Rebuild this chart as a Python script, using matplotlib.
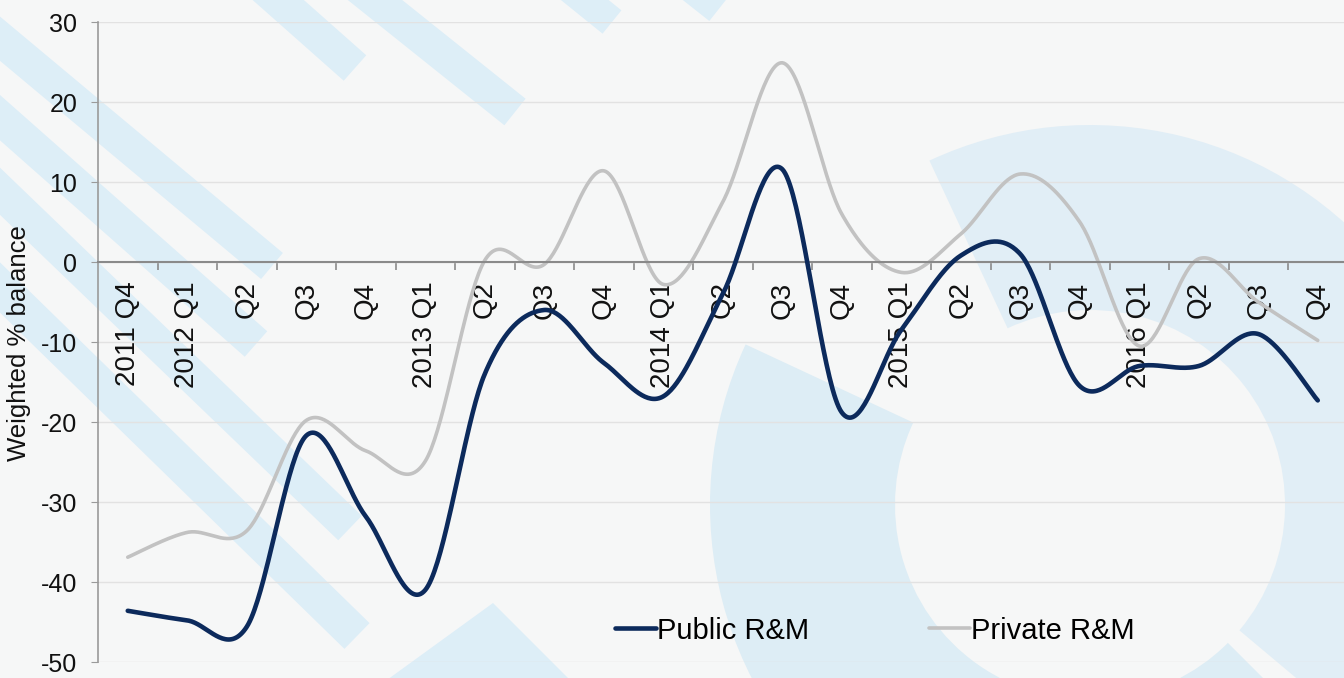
import numpy as np
import matplotlib
matplotlib.use("Agg")
import matplotlib.pyplot as plt
from matplotlib.patches import Polygon, Wedge
from matplotlib.transforms import Affine2D

plt.rcParams['font.family'] = ['Liberation Sans', 'DejaVu Sans']

# data
quarters = ['2011 Q4', '2012 Q1', 'Q2', 'Q3', 'Q4', '2013 Q1', 'Q2', 'Q3', 'Q4',
            '2014 Q1', 'Q2', 'Q3', 'Q4', '2015 Q1', 'Q2', 'Q3', 'Q4',
            '2016 Q1', 'Q2', 'Q3', 'Q4']
public_rm = [-43.6, -44.8, -45.6, -21.7, -31.8, -41.0, -14.0, -6.0, -12.6,
             -16.8, -4.0, 11.6, -18.8, -8.5, 0.8, 1.0, -15.5,
             -13.0, -13.0, -9.0, -17.3]
private_rm = [-36.9, -33.8, -33.6, -19.8, -23.6, -24.9, 0.2, -0.3, 11.4,
              -2.8, 7.5, 24.9, 6.0, -1.3, 3.5, 11.0, 5.0,
              -10.5, 0.4, -5.0, -9.8]
y_ticks = [-50, -40, -30, -20, -10, 0, 10, 20, 30]

W, H = 1344, 678


def smooth_line(yv, n=40):
    # Excel-style smoothed line (Catmull-Rom / Bezier through the points)
    p = np.column_stack([np.arange(len(yv)), np.asarray(yv, float)])
    out = []
    for i in range(len(p) - 1):
        p0 = p[i - 1] if i > 0 else p[i]
        p1, p2 = p[i], p[i + 1]
        p3 = p[i + 2] if i + 2 < len(p) else p[i + 1]
        c1 = p1 + (p2 - p0) / 6.0
        c2 = p2 - (p3 - p1) / 6.0
        t = np.linspace(0, 1, n)[:, None]
        seg = ((1 - t) ** 3) * p1 + 3 * ((1 - t) ** 2) * t * c1 + 3 * (1 - t) * t ** 2 * c2 + t ** 3 * p2
        out.append(seg if i == 0 else seg[1:])
    seg = np.vstack(out)
    return seg[:, 0], seg[:, 1]


fig = plt.figure(figsize=(W / 100, H / 100), dpi=100)
fig.patch.set_facecolor('#f6f7f7')
px = Affine2D().scale(1.0 / W, 1.0 / H) + fig.transFigure

# faint watermark decoration behind the chart
stripe_col = '#ddeef7'
stripes = [((250, -25), (355, 68), 34), ((350, -20), (515, 112), 34),
           ((560, -20), (612, 22), 30), ((680, -20), (718, 10), 28),
           ((-20, 22), (272, 266), 34), ((-20, 100), (256, 344), 34),
           ((-20, 172), (350, 528), 34), ((-20, 268), (357, 636), 36)]
for (x0, y0), (x1, y1), w in stripes:
    d = np.array([x1 - x0, y1 - y0], float)
    nrm = np.array([-d[1], d[0]]) / np.hypot(*d) * w / 2
    pts = np.array([[x0, y0] + nrm, [x1, y1] + nrm, [x1, y1] - nrm, [x0, y0] - nrm])
    pts[:, 1] = H - pts[:, 1]
    fig.patches.append(Polygon(pts, closed=True, facecolor=stripe_col,
                               edgecolor='none', transform=px, zorder=-5))
tri = np.array([[493, 603], [575, 685], [380, 685]], float)
tri[:, 1] = H - tri[:, 1]
fig.patches.append(Polygon(tri, closed=True, facecolor=stripe_col, edgecolor='none',
                           transform=px, zorder=-5))
fig.patches.append(Wedge((1090, H - 505), 380, -40, 115, width=185,
                         facecolor='#e1eef6', edgecolor='none', transform=px, zorder=-5))
fig.patches.append(Wedge((1090, H - 505), 380, 155, 315, width=185,
                         facecolor='#ddedf5', edgecolor='none', transform=px, zorder=-5))

ax = fig.add_axes([98 / W, (H - 662) / H, 1249.5 / W, 640 / H])
ax.set_facecolor('none')

x = np.arange(len(quarters))
xs, ys = smooth_line(public_rm)
ax.plot(xs, ys, color='#0c2a5c', lw=3.3, solid_capstyle='round', label='Public R&M', zorder=3)
xs, ys = smooth_line(private_rm)
ax.plot(xs, ys, color='#c2c2c2', lw=2.6, solid_capstyle='round', label='Private R&M', zorder=2)

ax.set_xlim(-0.5, len(quarters) - 0.5)
ax.set_ylim(-50, 30)
ax.set_yticks(y_ticks)
ax.set_yticklabels([str(v) for v in y_ticks], fontsize=18, color='#111111')
ax.yaxis.grid(True, color='#e2e2e2', lw=1.0)
ax.set_axisbelow(True)

for s in ['top', 'right']:
    ax.spines[s].set_visible(False)
ax.spines['left'].set_color('#9a9a9a')
ax.spines['left'].set_linewidth(1.2)
ax.spines['bottom'].set_position(('data', 0))
ax.spines['bottom'].set_color('#8a8a8a')
ax.spines['bottom'].set_linewidth(1.5)
ax.tick_params(axis='y', length=5, color='#9a9a9a', pad=10)

ax.set_xticks(x)
ax.set_xticklabels(quarters, rotation=90, fontsize=20, va='top', ha='center', color='#111111')
ax.tick_params(axis='x', which='major', length=0, pad=14)
ax.set_xticks(np.arange(0.5, len(quarters)), minor=True)
ax.tick_params(axis='x', which='minor', length=6, color='#8a8a8a', width=1.2)

fig.text(19 / W, 1 - 343 / H, 'Weighted % balance', rotation=90, ha='center', va='center',
         fontsize=18.5, color='#111111')

fig.legend(loc='center', bbox_to_anchor=(0.651, 0.07), ncol=2, frameon=False,
           fontsize=21, handlelength=1.4, handletextpad=0.05, columnspacing=4.1)

fig.savefig('out.png', dpi=100, facecolor=fig.get_facecolor())
